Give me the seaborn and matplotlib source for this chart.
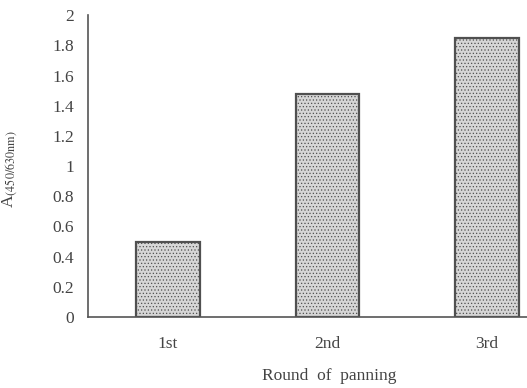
import pandas as pd
import seaborn as sns
import matplotlib.pyplot as plt

# Data
rounds = ['1st', '2nd', '3rd']
absorbance = [0.50, 1.48, 1.85]
yticks = [0, 0.2, 0.4, 0.6, 0.8, 1, 1.2, 1.4, 1.6, 1.8, 2]
ytick_labels = ['0', '0.2', '0.4', '0.6', '0.8', '1', '1.2', '1.4', '1.6', '1.8', '2']

df = pd.DataFrame({'round': rounds, 'A': absorbance})

sns.set_style('white')
plt.rcParams['font.family'] = ['Liberation Serif', 'DejaVu Serif']
plt.rcParams['mathtext.fontset'] = 'stix'
plt.rcParams['font.size'] = 12.5
plt.rcParams['hatch.color'] = '#8a8a8a'
plt.rcParams['hatch.linewidth'] = 0.5

fig = plt.figure(figsize=(5.27, 3.88), dpi=100)
ax = fig.add_axes([0.167, 0.183, 0.833, 0.778])

sns.barplot(data=df, x='round', y='A', ax=ax, width=0.4,
            color='#d6d6d6', edgecolor='#505050', linewidth=1.6,
            saturation=1)
for p in ax.patches:
    p.set_hatch('.....')

ax.set_xlim(-0.5, 2.25)
ax.set_ylim(0, 2)
ax.set_yticks(yticks)
ax.set_yticklabels(ytick_labels, color='#444444')
ax.tick_params(axis='y', direction='in', length=4, width=1, color='#444444', pad=10)
ax.tick_params(axis='x', length=0, pad=14, colors='#444444')

sns.despine(ax=ax)
for s in ['left', 'bottom']:
    ax.spines[s].set_color('#555555')
    ax.spines[s].set_linewidth(1.2)

ax.set_xlabel('Round  of  panning', color='#444444')
ax.xaxis.set_label_coords(0.55, -0.168)
ax.set_ylabel(r'A$_{\mathrm{(450/630nm)}}$', color='#444444')
ax.yaxis.set_label_coords(-0.155, 0.49)

plt.savefig('out.png', dpi=100)
plt.close()
